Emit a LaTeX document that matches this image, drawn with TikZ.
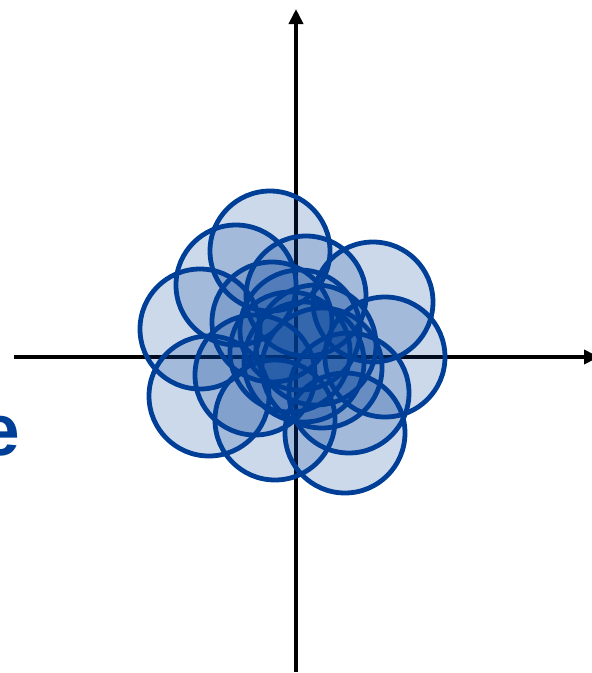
\documentclass[tikz,border=0pt]{standalone}
\usepackage{fontspec}
\setmainfont{Liberation Sans}
\usetikzlibrary{arrows.meta}
\definecolor{deepblue}{RGB}{0,63,152}

\begin{document}
\begin{tikzpicture}[x=1pt,y=-1pt,
    axis/.style={line width=3.8pt,-{Triangle[width=14pt,length=15pt]}},
    blob/.style={draw=deepblue,line width=4.8pt,fill=deepblue,fill opacity=0.2,draw opacity=1}]
        \useasboundingbox (0,0) rectangle (592,673);
        % Axes
        \draw[axis] (296,672) -- (296,9);
        \draw[axis] (14,357) -- (599,357);
        % Scattered circles
        \foreach \cx/\cy in {270/251, 236/285, 200/329, 209/396, 275/420,
            345/433, 349/393, 385/357, 373/302, 306/296, 272/322, 255/375,
            300/330, 316/345, 290/352, 304/362, 322/368}
          \draw[blob] (\cx,\cy) circle[radius=60];
        % Cut-off label
        \node[anchor=base east,inner sep=0pt,text=deepblue,
          font=\fontsize{73}{73}\selectfont\bfseries] (lbl) at (20,455) {e};
      \end{tikzpicture}
\end{document}
